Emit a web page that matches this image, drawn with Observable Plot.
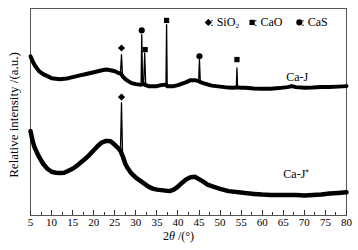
<!DOCTYPE html>
<html><head><meta charset="utf-8">
<script src="https://cdn.jsdelivr.net/npm/d3@7"></script>
<script src="https://cdn.jsdelivr.net/npm/@observablehq/plot@0.6"></script>
<style>
html,body{margin:0;padding:0;background:#fff;}
#chart{width:358px;height:250px;}
#chart svg, #chart svg text { font-family: "Liberation Serif", "Times New Roman", serif !important; }
</style>
</head><body><div id="chart"></div>
<script>
// 2θ positions and relative intensities (a.u.) for Ca-J
const caJ_x = [5,5.5,6,7,8,9,10,11,12,13,14,15,16,17,18,19,20,21,22,23,24,25,26,26.35,26.6,26.85,27.5,28.2,29,30,31,31.25,31.4,31.6,31.85,32.1,32.35,33,34,35,36,37,37.15,37.3,37.45,38,39,40,41,42,43,44,44.9,45.1,45.3,46,47,48,49,50,51,52,53,53.85,54.0,54.15,55,56,58,60,62,64,66,67,68,70,72,74,76,78,80];
const caJ_y = [160,155,151,145,142,140,138,137.5,137,137.3,138,139,140,141,142,143,144,145,146,146.7,146,145,143,143,161.7,140,137,135,133,132,131.5,131.5,181.7,132,132,163.3,131,130,130,130,131,131.5,131.5,191.7,130,130,130,131,132.5,134,136,136,135,156.7,134,133,131.7,130.5,130,129.5,129,128.5,128.3,128.5,148.3,128.5,128.3,128.3,127.5,127.3,127.3,128,129,130,129,128.3,128.5,129,129,129.5,130];
// Ca-J+
const caJp_x = [5,5.5,6,7,8,9,10,11,12,13,14,15,16,17,18,19,20,21,22,23,24,25,26,26.35,26.6,26.85,27.5,28,29,30,31,32,33,34,35,36,37,38,39,40,41,42,43,44,45,46,47,48,50,52,54,56,58,60,62,64,66,68,70,72,74,76,78,80];
const caJp_y = [85,75,68,59,52,47,44,43,42.7,43,45,47,50,53.5,57,61,65.5,70,73.5,75,74.5,71,67,65,113.3,60,52,48,42,38,35,32,29,27,26,25.5,25,24.5,26,29,33,36.5,38.5,39,37.5,34,31,29.5,26.7,24.5,23.3,22.5,21.7,21,20.7,20.7,20.5,20.5,20,20.5,21,22,22.7,23.3];
// peak apex positions
const peakApex = [26.6,31.4,32.1,37.3,45.1,54.0];
// phase markers: type, 2θ, height
const markerPhase = ["SiO2","CaS","CaO","CaO","CaS","CaO","SiO2"];
const markerX = [26.6,31.4,32.2,37.3,45.1,54.0,26.6];
const markerY = [168.3,186,166.7,196,160,156.7,119];
// curve labels
const curveLabels = ["Ca-J","Ca-J\u207A"];
const curveLabelX = [68.3,68.1];
const curveLabelY = [139,42];
// legend
const legendPhase = ["SiO2","CaO","CaS"];
const legendText = [": SiO\u2082",": CaO",": CaS"];
const legendX = [47.2,57.6,68.8];
const legendY = 194;
const xTicks = d3.range(5,81,5);
const xMinor = d3.range(7.5,80,5);

const symbolOf = {SiO2:"diamond2", CaO:"square", CaS:"circle"};
const rOf = {SiO2:2.2, CaO:1.9, CaS:2.0};

const caJ = caJ_x.map((x,i)=>({x, y:caJ_y[i]}));
const caJp = caJp_x.map((x,i)=>({x, y:caJp_y[i]}));
const isApex = d => peakApex.some(p => Math.abs(p-d.x) < 0.12);
const markers = markerX.map((x,i)=>({x, y:markerY[i], phase:markerPhase[i]}));
const labels = curveLabels.map((t,i)=>({t, x:curveLabelX[i], y:curveLabelY[i]}));
const legend = legendPhase.map((p,i)=>({p, t:legendText[i], x:legendX[i], y:legendY}));

const font = "Liberation Serif, Times New Roman, serif";
const chart = Plot.plot({
  width:358, height:250,
  marginTop:8, marginBottom:35, marginLeft:30, marginRight:12,
  style:{fontFamily:font, fontSize:"11px", color:"#000", background:"#fff"},
  x:{domain:[5,80], axis:null},
  y:{domain:[0,208], axis:null},
  marks:[
    Plot.frame({stroke:"#555"}),
    Plot.axisX({ticks:xTicks, tickSize:0, tickPadding:3, fontSize:11, label:null, fill:"#000"}),
    Plot.axisX({ticks:xTicks, tickSize:-5, text:null, label:null, stroke:"#333"}),
    Plot.axisX({ticks:xMinor, tickSize:-3, text:null, label:null, stroke:"#333"}),
    Plot.line(caJ, {x:"x", y:"y", stroke:"#000", strokeWidth:1.3}),
    Plot.line(caJ.filter(d=>!isApex(d)), {x:"x", y:"y", stroke:"#000", strokeWidth:4, strokeLinejoin:"round"}),
    Plot.line(caJp, {x:"x", y:"y", stroke:"#000", strokeWidth:1.3}),
    Plot.line(caJp.filter(d=>!isApex(d)), {x:"x", y:"y", stroke:"#000", strokeWidth:4.5, strokeLinejoin:"round"}),
    Plot.dot(markers, {x:"x", y:"y", symbol:d=>symbolOf[d.phase], r:d=>rOf[d.phase], fill:"#000", stroke:null}),
    Plot.text(labels, {x:"x", y:"y", text:"t", fontSize:12, fill:"#000"}),
    Plot.dot(legend, {x:"x", y:"y", symbol:d=>symbolOf[d.p], r:d=>rOf[d.p], fill:"#000", stroke:null}),
    Plot.text(legend, {x:"x", y:"y", text:"t", textAnchor:"start", dx:2, fontSize:12, fill:"#000"}),
    Plot.text(["Relative intensity /(a.u.)"], {frameAnchor:"left", textAnchor:"middle", rotate:-90, dx:-17, dy:3, fontSize:13, fill:"#000"}),
    Plot.text(["2θ /(°)"], {frameAnchor:"bottom", textAnchor:"middle", dy:24, dx:-10, fontSize:12, fill:"#000"})
  ]
});
chart.style.display = "block";
document.getElementById("chart").appendChild(chart);
d3.select(chart).selectAll("text").each(function(){
  if (this.textContent === "2θ /(°)") {
    this.innerHTML = '2<tspan font-style="italic">θ</tspan> /(°)';
  }
});
d3.select(chart).selectAll("[aria-label='x-axis tick'] path, [aria-label='frame']").attr("shape-rendering","crispEdges");
</script>
</body></html>
